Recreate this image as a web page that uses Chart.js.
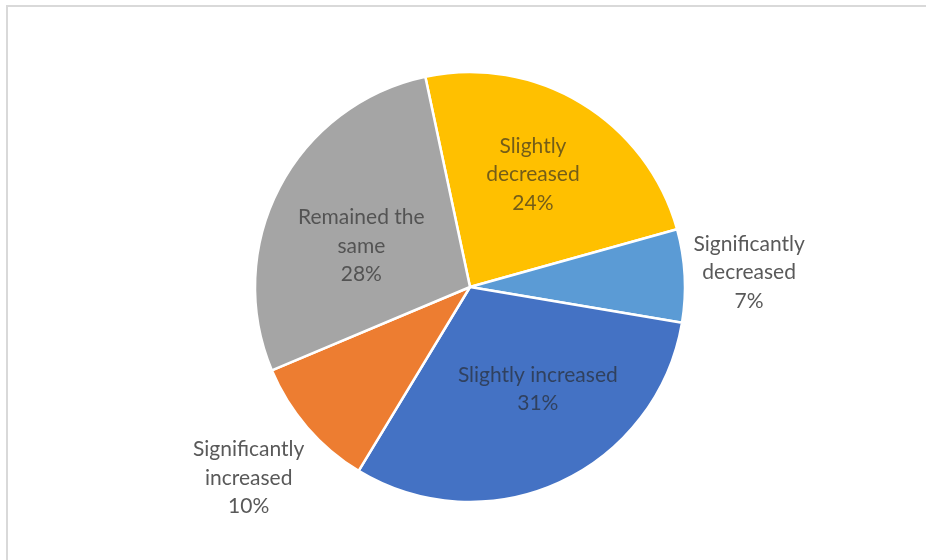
<!DOCTYPE html>
<html>
<head>
<meta charset="utf-8">
<script src="https://cdn.jsdelivr.net/npm/chart.js@4/dist/chart.umd.min.js"></script>
<style>
  html, body { margin: 0; padding: 0; background: #fff; overflow: hidden; }
  #frame {
    position: absolute; left: 6px; top: 5px;
    width: 940px; height: 580px;
    border: 2px solid #d9d9d9; box-sizing: border-box;
  }
  #wrap { position: absolute; left: 0; top: 0; width: 926px; height: 560px; }
</style>
</head>
<body>
<div id="frame"></div>
<div id="wrap"><canvas id="myChart" width="926" height="560"></canvas></div>
<script>
// slices in clockwise order, starting just left of 12 o'clock
const categories = [
  ['Slightly', 'decreased'],
  ['Significantly', 'decreased'],
  ['Slightly increased'],
  ['Significantly', 'increased'],
  ['Remained the', 'same']
];
const shares = [24, 7, 31, 10, 28];
const sliceColors = ['#FFC000', '#5B9BD5', '#4472C4', '#ED7D31', '#A5A5A5'];

// where each label sits: fraction of the radius, angle nudge in degrees
const labelSpots = [
  { r: 0.60, nudge: -2 },
  { r: 1.30, nudge: 0 },
  { r: 0.57, nudge: -9 },
  { r: 1.36, nudge: 0 },
  { r: 0.54, nudge: -7 }
];

const pieLabels = {
  id: 'pieLabels',
  afterDatasetsDraw(chart) {
    const ctx = chart.ctx;
    const arcs = chart.getDatasetMeta(0).data;
    ctx.save();
    ctx.font = '21px Lato, "Open Sans", sans-serif';
    ctx.textAlign = 'center';
    ctx.textBaseline = 'middle';
    arcs.forEach((arc, i) => {
      const p = arc.getProps(['x', 'y', 'startAngle', 'endAngle', 'outerRadius'], true);
      const spot = labelSpots[i];
      const mid = (p.startAngle + p.endAngle) / 2 + spot.nudge * Math.PI / 180;
      const cx = p.x + Math.cos(mid) * p.outerRadius * spot.r;
      const cy = p.y + Math.sin(mid) * p.outerRadius * spot.r;
      const lines = categories[i].concat([shares[i] + '%']);
      const lh = 28.5;
      const outside = spot.r > 1;
      ctx.fillStyle = outside ? '#595959' : 'rgba(38,38,38,0.64)';
      lines.forEach((t, k) => {
        ctx.fillText(t, cx, cy + (k - (lines.length - 1) / 2) * lh);
      });
    });
    ctx.restore();
  }
};

const config = {
  type: 'pie',
  data: {
    labels: categories,
    datasets: [{
      data: shares,
      backgroundColor: sliceColors,
      borderColor: '#ffffff',
      borderWidth: 2.5
    }]
  },
  options: {
    responsive: false,
    animation: false,
    rotation: -12,
    radius: 215,
    layout: { padding: { top: 72, bottom: 58, left: 100, right: 86 } },
    plugins: {
      legend: { display: false },
      tooltip: { enabled: false }
    }
  },
  plugins: [pieLabels]
};

const myChart = new Chart(document.getElementById('myChart'), config);
</script>
</body>
</html>
